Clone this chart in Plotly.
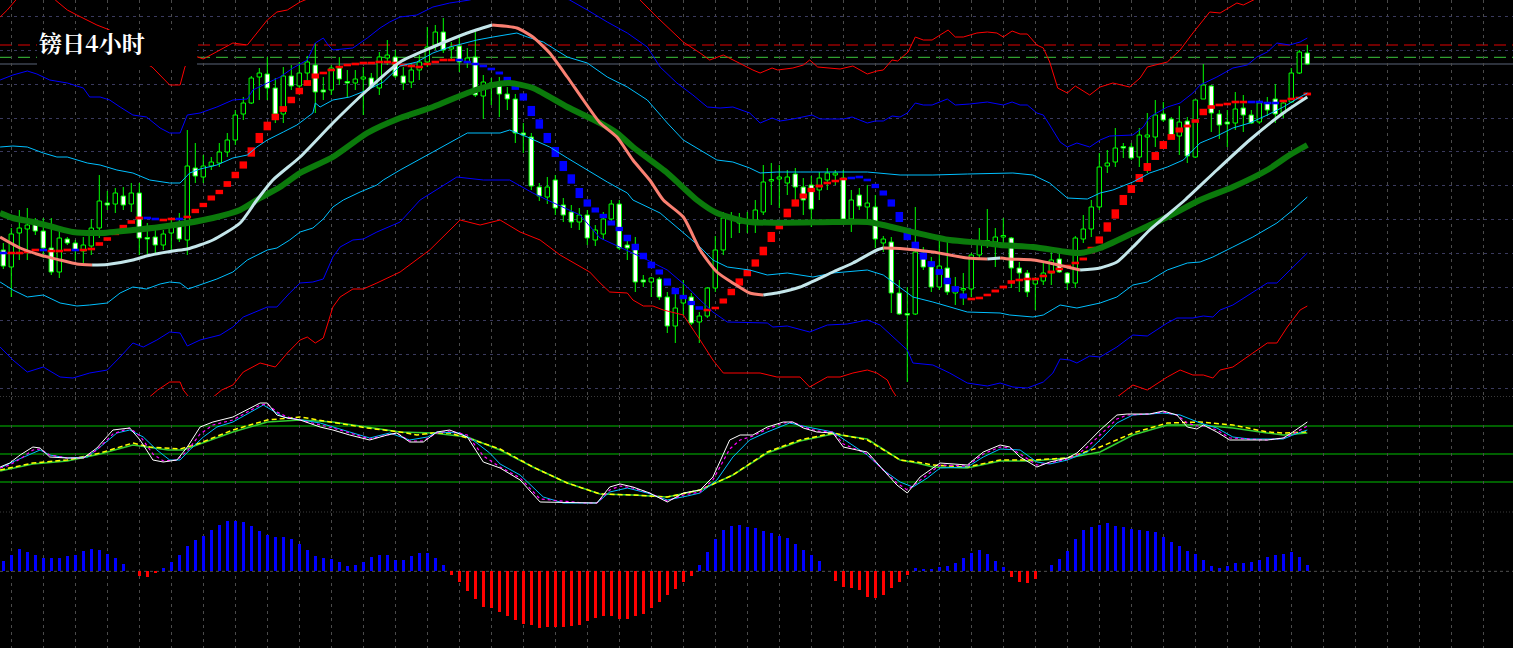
import plotly.graph_objects as go

# ---------------- DATA ----------------
LABEL = "镑日4小时"

OPEN = [150,133,167,171,176,169,152,128,161,157, 149,154,172,197,196,204,196,207,162,163,
        155,167,176,160,232,223,234,237,248,260, 286,297,323,326,312,286,324,314,327,335,
        310,310,332,318,317,321,322,312,342,343, 324,318,330,338,355,368,351,354,338,343,
        304,317,314,306,301,267,263,213,203,220, 195,188,178,185,160,166,181,196,155,155,
        120,118,121,103,74,97,103,78,84,112, 150,183,177,180,180,188,219,221,217,226,
        213,215,210,220,225,222,181,205,193,193, 157,158,107,86,86,147,133,113,132,107,
        110,111,145,158,158,163,162,132,127,116, 119,127,141,127,117,161,171,193,234,238,
        253,253,243,263,263,286,281,264,279,243, 301,314,286,278,277,292,285,278,297,301,
        287,298,327,347]
HIGH = [157,172,190,192,182,182,182,173,163,160, 163,181,225,209,212,213,217,217,177,173,
        170,181,187,270,257,245,243,257,267,290, 303,324,332,343,322,333,335,338,344,357,
        323,335,343,330,330,333,327,348,360,350, 333,337,345,373,375,382,358,364,352,368,
        325,322,323,313,306,277,267,217,223,225, 202,195,192,190,175,188,200,200,162,163,
        125,123,123,108,107,120,107,88,113,164, 188,188,187,188,200,235,237,235,230,232,
        222,224,228,232,230,230,210,212,215,205, 164,163,120,113,193,153,143,160,160,123,
        127,147,172,191,172,182,163,138,130,123, 137,148,147,128,164,185,200,247,250,272,
        257,257,272,287,300,298,283,294,283,300, 336,315,290,290,308,305,290,300,303,316,
        300,332,350,355]
LOW = [131,103,140,140,165,142,125,122,155,140, 137,145,162,190,187,190,188,145,145,145,
       150,150,158,145,217,217,230,233,243,255, 280,296,300,300,277,277,310,305,318,287,
       300,305,315,303,310,285,312,305,335,322, 310,312,320,333,350,347,340,328,332,303,
       281,295,283,290,257,247,210,199,196,185, 178,172,170,155,154,160,178,150,140,108,
       113,103,100,67,57,85,75,57,82,108, 145,162,167,167,167,185,195,192,205,200,
       185,173,200,210,215,177,168,190,177,152, 148,87,85,18,85,130,108,110,105,95,
       95,103,140,152,133,153,112,108,103,90, 115,115,127,110,112,157,163,190,227,233,
       242,240,233,227,253,278,262,245,237,242, 301,268,261,253,270,268,276,276,284,277,
       282,297,326,335]
CLOSE = [134,166,172,175,169,152,128,162,157,150, 155,172,199,195,207,195,207,162,161,155,
         166,176,161,234,224,234,238,248,260,285, 297,322,327,312,286,324,314,327,338,308,
         308,332,321,317,321,323,313,343,345,324, 317,330,338,353,368,350,353,338,342,305,
         318,315,306,301,267,265,214,204,213,192, 185,178,185,162,170,181,196,152,152,118,
         118,122,103,74,92,103,77,84,112,150, 182,181,182,179,190,218,220,223,223,213,
         200,191,222,227,227,181,200,194,197,161, 161,107,86,85,148,133,113,134,108,111,
         111,145,158,159,163,164,132,127,108,120, 127,140,128,117,162,171,193,233,237,252,
         252,242,265,265,285,280,264,278,244,300, 315,287,275,276,291,285,277,297,290,286,
         297,327,348,336]

# trend-step indicator (squares) and its direction (R = up, B = down)
STEP = [147,147,147,148,150,150,149,149,150,150, 150,151,156,161,167,173,178,182,182,181,
        180,181,181,183,189,195,202,208,216,225, 235,248,262,274,283,291,300,309,317,324,
        327,330,333,335,336,337,337,338,338,337, 335,334,333,336,338,340,340,340,338,336,
        334,331,327,321,313,303,289,276,262,248, 234,221,207,197,190,184,177,171,162,153,
        144,135,128,118,109,103,97,92,90,92, 99,108,118,127,137,149,163,175,187,197,
        204,210,214,217,219,221,222,223,220,214, 207,197,183,166,154,144,136,128,119,111,
        104,101,102,105,109,113,118,120,121,121, 124,128,131,134,137,141,150,160,173,186,
        200,211,222,233,244,255,263,270,274,279, 288,293,295,296,298,298,298,298,297,297,
        299,301,302,306]
STEP_DIR = ("BRRRRBRRRB" "RRRRRRRRBB" "RRBRRRRRRR" "RRRRRRRRRR" "RRRRRRRRRR"
            "RRRRRRRBBB" "BBBBBBBBBB" "BBBBBBBBBB" "BBBBBBBBRR" "RRRRRRRRRR"
            "RRRRRRBBBB" "BBBBBBBBBB" "BRRRRRRRRR" "RRRRRRRRRR" "RRRRRRRRRR"
            "RRRRRRBBBB" "RRRR")

# middle band (thick green)
MID_X = [-0.4,1.2,3.7,6.2,8.7,12.1,16.2,19.6,23.0,26.2,29.6,32.1,34.6,37.1,41.2,45.5,49.6,53.7,58.0,61.2,
         63.3,66.2,70.5,74.6,76.7,78.7,83.0,86.7,89.2,93.3,103.7,108.0,110.0,114.2,118.3,122.5,124.6,128.7,133.0,134.6,
         137.1,141.2,145.5,149.6,153.7,158.0,160.8,163.0]
MID = [187,182,178,173,168,167,170,173,177,182,190,202,213,227,243,267,282,293,307,315,
       317,312,293,277,267,253,227,200,187,178,178,178,175,167,160,157,155,153,148,147,
       152,167,183,200,213,230,245,255]

# fast moving average (light when rising, salmon when falling)
MA_X = [-0.4,2.1,4.6,7.1,9.2,11.1,13.0,16.2,17.9,21.2,23.0,26.2,29.6,31.7,33.7,37.1,41.2,45.5,49.6,53.7,
        58.0,61.1,64.2,66.2,68.3,70.5,72.5,74.6,76.7,78.7,80.8,82.5,85.0,87.1,89.2,91.2,93.3,95.0,96.7,99.6,
        103.7,106.2,109.2,110.0,112.1,116.2,120.5,123.0,124.6,125.8,128.7,130.8,133.0,134.6,137.1,139.2,141.2,143.3,145.5,147.7,
        151.7,155.8,160.0,163.0]
MA = [163,152,145,140,136,135,135.5,140,144,149,151,160,177,200,220,243,277,310,338,353,
      367,375,372,363,347,323,300,277,263,240,220,200,183,150,128,117,107,105,107,113,
      128,137,150,152,151.5,148,142,141,142,141,140,137,133,130,132,138,153,170,185,200,
      230,260,287,303]

# outer bands (red)
RU_X = [-0.4,0.5,2.1,4.6,6.5,8.0,9.2,10.5,11.7,13.3,15.8,18.6,20.8,22.1,22.7,23.6,24.2,25.0,28.7,30.5,
        33.0,34.2,35.5,37.1,38.3,43.3,49.6,55.8,62.1,68.3,74.6,78.3,79.6,81.7,83.0,85.0,87.1,88.3,90.0,91.2,
        93.7,94.6,96.1,96.8,98.7,100.0,100.8,101.8,104.6,106.2,108.0,109.2,110.0,111.1,111.8,113.1,114.0,115.0,116.1,118.1,
        119.0,120.0,121.7,123.0,124.2,125.0,126.1,127.1,128.0,129.2,130.0,130.8,131.8,133.0,134.0,135.8,137.1,138.7,140.8,142.1,
        143.0,145.5,147.1,148.7,150.8,152.1,154.2,155.0,156.2,158.3,160.8,163.0]
RU = [383,390,405,410,400,390,385,380,375,370,345,333,315,315,333,345,343,341,357,355,
      380,388,390,398,402,410,436,428,450,435,437,410,400,383,373,358,347,340,345,340,
      330,327,332,330,332,335,340,333,331,334,326,329,330,340,339,348,363,360,360,370,
      363,363,367,368,367,363,369,366,366,355,352,338,312,307,314,305,313,317,313,322,
      333,338,350,367,388,387,397,395,400,408,412,415]
RL_X = [-0.4,5.8,12.1,17.1,19.3,20.8,22.1,22.5,24.0,25.8,27.3,28.7,30.0,32.1,34.0,35.5,37.1,38.0,39.0,40.0,
        41.2,42.1,43.7,45.0,46.7,49.6,53.3,55.2,57.1,59.6,62.1,64.6,67.1,69.6,73.3,74.6,75.8,78.0,78.7,80.0,
        81.2,82.5,85.0,87.1,88.7,90.0,94.6,96.7,99.6,100.8,103.0,104.6,106.2,108.0,109.2,110.5,111.1,112.7,118.3,124.6,
        130.8,137.1,140.5,141.2,143.0,145.5,147.1,148.7,150.0,151.2,152.1,153.7,156.2,158.0,159.2,160.5,162.1,163.0]
RL = [-40,-45,-25,-5,10,18,18,10,-5,0,10,15,28,37,33,47,60,63,57,62,
      93,103,111,111,117,128,150,165,180,175,180,168,160,145,128,117,108,107,100,94,
      94,90,85,60,40,27,27,23,23,13,23,23,27,30,27,20,10,-10,-30,-55,
      -40,-10,10,15,10,23,30,25,25,22,30,33,47,57,57,73,90,94]

# 2-sigma bands (blue)
BU_X = [-0.4,1.2,3.0,4.2,5.8,8.0,10.0,10.8,12.1,13.3,14.6,16.2,17.9,19.6,20.8,22.1,23.0,24.6,26.7,28.7,
        30.5,31.2,33.0,34.6,36.2,38.0,39.0,40.0,40.6,41.2,43.7,45.5,47.1,48.3,49.6,51.7,53.7,55.8,58.3,62.1,
        67.1,70.8,73.0,75.5,78.0,80.5,82.1,84.2,86.2,88.0,89.6,91.2,93.3,94.6,96.1,97.1,98.7,100.0,101.1,102.1,
        105.0,106.1,108.0,109.0,110.0,111.1,112.1,113.0,114.0,115.0,116.1,118.0,119.0,120.8,123.0,125.0,126.1,127.1,128.0,129.2,
        130.0,130.8,131.2,132.1,133.0,134.2,135.8,137.1,138.3,141.2,142.5,143.3,145.5,147.1,148.7,149.6,151.7,153.7,155.5,156.7,
        158.0,159.2,160.8,162.1,163.0]
BU = [320,325,329,326,320,317,312,303,303,300,293,285,283,272,267,267,285,287,293,300,
      301,310,317,323,332,340,357,362,355,350,352,362,372,378,383,385,393,397,400,410,
      410,400,390,378,367,353,333,317,305,293,292,293,287,277,282,279,281,283,285,281,
      281,283,277,279,279,284,283,287,297,295,295,301,295,296,298,295,298,295,295,287,
      285,275,270,258,253,257,253,260,264,265,273,283,293,297,307,315,323,332,335,343,
      348,357,355,358,362]
BL_X = [-0.4,1.2,3.0,5.0,7.1,8.7,10.8,13.0,14.6,16.2,17.5,19.2,20.8,22.1,23.0,24.6,27.1,28.7,30.0,33.0,
        34.2,35.8,37.1,38.7,40.0,41.2,42.1,43.7,45.0,46.7,49.6,52.1,56.7,60.0,63.3,66.2,68.0,72.1,74.6,77.1,
        80.0,83.0,85.5,87.1,88.7,90.5,95.5,96.2,98.0,100.8,103.0,105.5,108.0,109.6,111.2,113.0,113.7,116.2,118.3,120.5,
        123.0,124.6,126.2,128.0,130.0,131.2,132.1,133.3,134.2,135.8,137.1,139.2,141.2,143.0,145.5,146.7,148.7,150.0,151.2,152.1,
        153.7,155.5,158.0,159.2,160.8,163.0]
BL = [53,40,28,33,23,22,27,30,43,57,53,60,68,67,54,60,65,73,83,93,
      93,107,117,118,121,143,153,160,161,168,178,200,223,220,220,207,200,185,162,153,
      142,130,113,100,88,78,77,73,74,68,75,76,80,75,63,50,37,35,27,17,
      14,17,13,12,18,27,41,40,37,44,43,53,65,64,77,82,82,84,83,90,
      95,104,117,117,130,147]

# 1-sigma bands (sky blue)
CU_X = [-0.4,1.2,3.0,5.0,6.7,8.0,10.5,12.1,14.2,16.2,18.3,20.8,22.1,23.3,24.6,26.7,28.7,30.5,31.7,33.0,
        35.0,36.7,38.7,39.0,39.6,41.2,43.3,45.5,47.5,49.6,51.7,53.7,55.8,59.2,61.2,64.2,65.5,67.5,70.5,73.0,
        75.5,78.0,80.5,83.0,85.0,87.1,89.2,91.2,93.3,94.6,96.7,99.6,103.7,108.0,112.1,116.2,120.5,124.6,126.2,128.7,
        130.8,133.0,135.5,137.1,138.7,141.2,143.3,145.5,147.5,149.6,151.7,153.7,155.8,158.0,160.0,162.1,163.0]
CU = [253,254,253,247,243,243,237,235,230,227,220,217,217,227,231,235,242,245,253,260,
      268,275,287,297,293,300,303,310,318,334,338,347,353,360,363,367,363,358,343,337,
      323,313,300,277,260,250,240,238,232,227,228,228,228,228,225,225,226,227,227,225,
      217,202,201,207,210,218,227,233,240,257,264,272,277,285,293,303,307]
CL_X = [-0.4,1.2,3.0,5.0,7.1,9.2,10.8,13.0,14.6,16.2,17.9,19.6,20.8,22.1,23.1,24.6,26.7,28.7,30.5,33.0,
        34.2,35.8,37.1,38.7,40.0,41.2,42.5,44.6,46.7,47.5,49.6,53.7,58.0,62.1,63.3,65.5,68.3,70.5,73.0,75.5,
        78.0,78.7,82.1,85.0,87.1,88.7,90.5,93.3,95.5,98.0,101.2,103.7,108.0,110.0,112.1,113.7,116.2,120.5,124.6,125.8,
        128.7,130.0,132.1,133.0,134.2,137.1,139.2,141.2,143.0,145.5,148.0,149.6,151.2,153.7,156.2,159.2,161.2,163.0]
CL = [118,110,103,105,97,94,95,97,107,113,111,116,118,117,111,115,121,128,140,150,
      152,160,168,172,181,193,200,208,215,220,230,248,267,267,270,263,253,242,230,218,
      207,200,187,167,153,140,133,130,125,127,123,127,130,125,112,103,98,88,87,85,
      83,85,95,94,92,97,103,115,118,130,137,138,143,153,163,177,190,203]

# horizontal price levels
RED_LEVEL = 355
GREEN_LEVEL = 342.7
BID = CLOSE[-1]

# oscillator pane
OSC_W_X = [-0.4,0.8,2.1,3.7,4.6,5.8,8.0,10.0,11.7,13.7,15.8,17.1,18.7,20.0,21.7,23.0,24.6,26.2,28.7,32.1,
           33.0,34.2,35.5,37.1,39.6,41.2,43.3,45.8,48.0,49.2,50.8,52.5,54.2,55.8,58.0,60.0,62.1,64.6,67.1,72.5,
           74.2,75.8,77.1,78.7,80.8,83.0,85.0,87.1,88.7,90.8,92.1,93.7,95.5,97.5,98.7,100.0,101.7,103.7,105.0,106.7,
           108.0,110.0,111.7,113.0,114.6,117.1,120.5,122.5,124.6,125.8,127.1,129.2,130.8,133.0,134.2,135.5,137.1,139.2,140.5,143.3,
           145.0,146.7,148.0,149.2,150.0,151.7,153.3,158.0,160.0,161.2,163.0]
OSC_W = [45,49,57,65,64,55,54,54,64,82,84,72,52,50,52,65,85,90,95,109,
         109,97,94,92,85,82,77,72,77,79,70,70,80,82,75,50,44,32,10,9,
         9,25,28,25,19,10,19,22,35,72,77,77,85,90,90,84,80,79,65,62,
         60,42,27,19,35,49,47,60,67,65,55,45,50,54,59,69,82,97,98,98,
         101,97,85,83,87,80,72,72,74,80,90]
OSC_M = [44,47,53,62,63,57,54,54,62,78,84,76,58,51,52,61,78,87,92,107,
         108,100,95,92,87,84,79,73,77,79,71,71,79,81,77,56,45,34,13,9,
         9,22,26,24,19,11,17,20,32,63,72,76,83,89,90,85,81,80,68,62,
         58,42,29,22,32,47,46,58,65,64,58,47,49,53,57,65,77,93,97,98,
         100,97,89,86,86,82,74,72,74,78,86]
OSC_C_X = [-0.4,1.7,4.6,5.8,8.0,10.5,12.1,14.2,15.8,17.5,19.2,20.8,22.1,23.3,25.0,26.7,28.7,32.5,35.0,37.1,
           39.6,43.3,45.8,48.3,50.8,53.0,54.2,57.1,58.7,60.8,62.1,64.6,67.5,70.0,74.2,75.8,78.0,80.5,83.0,85.5,
           87.1,89.2,91.2,93.3,95.5,98.3,100.5,103.7,105.8,108.0,110.0,112.1,113.7,115.5,117.1,120.5,122.5,124.6,127.1,129.2,
           130.8,133.0,135.5,137.1,139.2,141.2,143.3,145.0,147.1,149.6,151.7,153.7,155.8,160.0,161.2,163.0]
OSC_C = [44,52,62,57,54,55,65,79,82,75,62,52,52,62,75,85,90,107,95,92,
         89,80,74,79,72,75,80,79,72,59,48,37,15,9,9,20,24,19,12,16,
         19,32,55,72,80,89,85,80,69,57,42,30,25,34,44,45,55,63,62,50,
         48,52,60,72,89,97,98,99,97,89,84,75,73,73,77,82]
OSC_Y_X = [-0.4,3.7,8.0,12.1,16.2,18.3,22.1,24.6,28.7,33.0,37.1,41.2,45.5,49.6,51.7,53.7,55.8,58.0,60.0,62.1,
           66.2,70.5,74.6,78.7,83.0,87.1,91.2,95.5,99.6,103.7,108.0,112.1,114.2,116.2,120.5,124.6,128.7,133.0,137.1,141.2,
           145.5,149.6,153.7,158.0,160.0,163.0]
OSC_Y = [42,49,52,59,69,65,63,69,82,92,95,90,84,80,77,79,79,74,69,63,
         45,29,18,17,15,22,37,60,72,79,72,52,50,47,45,52,52,54,65,79,
         89,90,87,80,79,80]
OSC_G_X = [-0.4,3.7,8.0,12.1,16.2,20.6,22.5,24.6,28.7,33.0,37.1,41.2,45.5,49.6,53.7,55.8,58.0,62.1,66.2,70.5,
           74.6,78.7,83.0,87.1,91.2,95.5,99.6,103.7,108.0,112.1,114.2,116.2,120.5,124.6,128.7,133.0,137.1,141.2,145.5,149.6,
           153.7,158.0,160.0,163.0]
OSC_G = [41,48,51,58,67,62,62,68,80,90,92,90,85,80,79,77,75,62,45,29,
         18,17,15,22,37,59,71,78,73,52,49,45,44,51,51,54,60,77,87,87,
         84,79,77,79]
OSC_LEVELS = [86, 58, 30]

# histogram pane
HIST = [31,49,66,57,49,39,39,39,46,49, 61,66,64,52,39,22,1,-13,-16,-5,
        10,28,49,76,94,106,124,139,151,151, 147,136,121,109,102,102,96,82,64,46,
        39,36,29,16,18,28,42,49,49,34, 34,46,54,54,39,19,-11,-31,-58,-83,
        -106,-109,-121,-134,-146,-158,-161,-169,-166,-166, -166,-164,-161,-148,-139,-134,-134,-142,-143,-134,
        -127,-109,-91,-71,-53,-31,-13,19,58,96, 124,136,139,132,129,121,114,106,99,82,
        64,49,31,0,-29,-46,-49,-56,-76,-79, -71,-49,-31,-11,9,6,6,13,17,25,
        40,55,64,53,31,13,-16,-31,-34,-23, 0,19,37,61,97,124,133,139,144,137,
        133,127,124,121,118,103,88,76,61,52, 34,16,10,16,25,25,28,34,43,49,
        52,58,43,19]

# ---------------- STYLE ----------------
BG = "#000000"
LIME = "#00ff00"
VGRID = "#4a4a4a"
HGRID = "#3a3a5e"
W, H = 1513, 648

N = len(OPEN)
idx = list(range(N))

fig = go.Figure()

# candle bodies
def body(sel):
    xs = [i for i in idx if sel(i)]
    lo = [min(OPEN[i], CLOSE[i]) for i in xs]
    hh = [max(abs(CLOSE[i] - OPEN[i]), 1.5) for i in xs]
    return xs, lo, hh

for sel, fill in [(lambda i: CLOSE[i] >= OPEN[i], "#000000"), (lambda i: CLOSE[i] < OPEN[i], "#ffffff")]:
    xs, lo, hh = body(sel)
    fig.add_trace(go.Bar(x=xs, y=hh, base=lo, width=0.55, xaxis="x", yaxis="y",
                         marker=dict(color=fill, line=dict(color=LIME, width=1)), hoverinfo="skip"))

# wicks (split so they don't cross the body)
wx, wy = [], []
for i in idx:
    top = max(OPEN[i], CLOSE[i]); bot = min(OPEN[i], CLOSE[i])
    if HIGH[i] > top:
        wx += [i, i, None]; wy += [top, HIGH[i], None]
    if LOW[i] < bot:
        wx += [i, i, None]; wy += [LOW[i], bot, None]
fig.add_trace(go.Scatter(x=wx, y=wy, mode="lines", line=dict(color=LIME, width=1),
                         xaxis="x", yaxis="y", hoverinfo="skip"))

# trend-step squares
for code, col in [("R", "#ff0000"), ("B", "#0000ff")]:
    sx, sy = [], []
    for i in idx:
        if STEP_DIR[i] != code:
            continue
        prev = STEP[i - 1] if i > 0 else STEP[1]
        h = max(2.6, 0.72 * abs(STEP[i] - prev))
        sx += [i, i, None]; sy += [STEP[i] - h / 2, STEP[i] + h / 2, None]
    fig.add_trace(go.Scatter(x=sx, y=sy, mode="lines", line=dict(color=col, width=7.5),
                             xaxis="x", yaxis="y", hoverinfo="skip"))

# bands
for xs, ys, col in [(RU_X, RU, "#ff0000"), (RL_X, RL, "#ff0000"),
                    (BU_X, BU, "#0000ff"), (BL_X, BL, "#0000ff"),
                    (CU_X, CU, "#00bfff"), (CL_X, CL, "#00bfff")]:
    fig.add_trace(go.Scatter(x=xs, y=ys, mode="lines", line=dict(color=col, width=1),
                             xaxis="x", yaxis="y", hoverinfo="skip"))

# middle band (thick green)
fig.add_trace(go.Scatter(x=MID_X, y=MID, mode="lines", line=dict(color="#0b7a0b", width=6, shape="spline", smoothing=0.6),
                         xaxis="x", yaxis="y", hoverinfo="skip"))

# fast MA coloured by slope
runs = []
for k in range(len(MA_X) - 1):
    rising = MA[k + 1] >= MA[k]
    if runs and runs[-1][0] == rising:
        runs[-1][1].append(k + 1)
    else:
        runs.append([rising, [k, k + 1]])
for rising, ks in runs:
    fig.add_trace(go.Scatter(x=[MA_X[k] for k in ks], y=[MA[k] for k in ks], mode="lines",
                             line=dict(color="#c4e6ea" if rising else "#fa8072", width=3, shape="spline", smoothing=0.6),
                             xaxis="x", yaxis="y", hoverinfo="skip"))

# oscillator lines
fig.add_trace(go.Scatter(x=OSC_G_X, y=OSC_G, mode="lines", line=dict(color="#32cd32", width=1.5),
                         xaxis="x2", yaxis="y2", hoverinfo="skip"))
fig.add_trace(go.Scatter(x=OSC_Y_X, y=OSC_Y, mode="lines", line=dict(color="#ffff00", width=1.5, dash="5px,3px"),
                         xaxis="x2", yaxis="y2", hoverinfo="skip"))
fig.add_trace(go.Scatter(x=OSC_C_X, y=OSC_C, mode="lines", line=dict(color="#00bfff", width=1),
                         xaxis="x2", yaxis="y2", hoverinfo="skip"))
fig.add_trace(go.Scatter(x=OSC_W_X, y=OSC_M, mode="lines", line=dict(color="#ff00ff", width=1.2, dash="3px,3px"),
                         xaxis="x2", yaxis="y2", hoverinfo="skip"))
fig.add_trace(go.Scatter(x=OSC_W_X, y=OSC_W, mode="lines", line=dict(color="#ffffff", width=1),
                         xaxis="x2", yaxis="y2", hoverinfo="skip"))

# histogram
fig.add_trace(go.Bar(x=idx, y=HIST, width=0.4, xaxis="x3", yaxis="y3",
                     marker=dict(color=["#0000ff" if v >= 0 else "#ff0000" for v in HIST], line=dict(width=0)),
                     hoverinfo="skip"))

# ---------------- LAYOUT ----------------
xr = [-3.3 / 8, (W - 3.3) / 8]
xcommon = dict(range=xr, showgrid=True, gridcolor=VGRID, griddash="3px,4px", gridwidth=1,
               tickmode="linear", tick0=1, dtick=4, showticklabels=False, ticks="",
               zeroline=False, showline=False, fixedrange=True)
shapes = []
# price levels
for lvl, col, dash in [(RED_LEVEL, "#e00000", "12px,6px"), (GREEN_LEVEL, "#3cc83c", "12px,6px"), (BID, "#5a6478", "solid")]:
    shapes.append(dict(type="line", xref="paper", x0=0, x1=1, yref="y", y0=lvl, y1=lvl,
                       line=dict(color=col, width=1, dash=dash), layer="between"))
for lvl in OSC_LEVELS:
    shapes.append(dict(type="line", xref="paper", x0=0, x1=1, yref="y2", y0=lvl, y1=lvl,
                       line=dict(color="#008000", width=1.6), layer="between"))
shapes.append(dict(type="line", xref="paper", x0=0, x1=1, yref="y3", y0=0, y1=0,
                   line=dict(color="#505050", width=1, dash="3px,3px"), layer="between"))
# pane separators
for ypx in [396.5, 512]:
    shapes.append(dict(type="line", xref="paper", x0=0, x1=1, yref="paper", y0=1 - ypx / H, y1=1 - ypx / H,
                       line=dict(color="#3a3a3a", width=1, dash="1px,2px"), layer="above"))
# label backdrop
shapes.append(dict(type="rect", xref="paper", yref="paper", x0=37 / W, x1=197 / W,
                   y0=1 - 66 / H, y1=1 - 30 / H, fillcolor=BG, line=dict(width=0), layer="above"))

fig.update_layout(
    width=W, height=H, margin=dict(l=0, r=0, t=0, b=0),
    paper_bgcolor=BG, plot_bgcolor=BG, showlegend=False, hovermode=False,
    barmode="overlay", bargap=0,
    xaxis=dict(domain=[0, 1], anchor="y", **xcommon),
    xaxis2=dict(domain=[0, 1], anchor="y2", matches="x", **xcommon),
    xaxis3=dict(domain=[0, 1], anchor="y3", matches="x", **xcommon),
    yaxis=dict(domain=[1 - 396 / H, 1], range=[4, 400], showgrid=True, gridcolor=HGRID, griddash="3px,4px",
               tickmode="linear", tick0=11.5, dtick=33.8, showticklabels=False, ticks="",
               zeroline=False, showline=False, fixedrange=True),
    yaxis2=dict(domain=[1 - 511 / H, 1 - 397 / H], range=[1, 115], showgrid=False, showticklabels=False,
                ticks="", zeroline=False, showline=False, fixedrange=True),
    yaxis3=dict(domain=[0, 1 - 513 / H], range=[-230, 175], showgrid=False, showticklabels=False,
                ticks="", zeroline=False, showline=False, fixedrange=True),
    shapes=shapes,
    annotations=[dict(text="<b>" + LABEL + "</b>", xref="paper", yref="paper", x=37 / W, y=1 - 43 / H,
                      xanchor="left", yanchor="middle", showarrow=False,
                      font=dict(family="Noto Serif CJK SC, Noto Sans CJK SC, sans-serif", size=23, color="#ffffff"))],
)

fig.write_html("out.html", config={"displayModeBar": False, "staticPlot": True},
               post_script="document.body.style.margin='0';document.body.style.overflow='hidden';")
